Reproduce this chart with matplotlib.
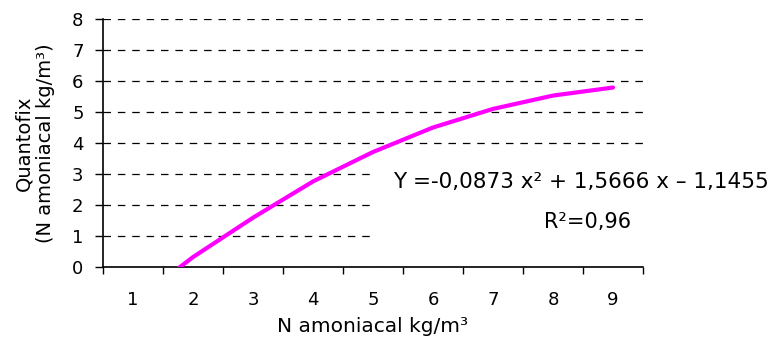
import numpy as np
import matplotlib
matplotlib.use("Agg")
import matplotlib.pyplot as plt
from matplotlib.patches import Rectangle

# data (category axis 1..9)
categories = ['1', '2', '3', '4', '5', '6', '7', '8', '9']
quantofix = [-1.15, 0.33, 1.60, 2.77, 3.72, 4.51, 5.11, 5.54, 5.80]
y_ticks = [0, 1, 2, 3, 4, 5, 6, 7, 8]
equation = "Y =-0,0873 x\u00b2 + 1,5666 x \u2013 1,1455"
r2_text = "R\u00b2=0,96"

plt.rcParams['font.family'] = ['DejaVu Sans']

fig = plt.figure(figsize=(7.81, 3.42), dpi=100)
ax = fig.add_axes([0.1319, 0.2184, 0.6914, 0.7251])

x = np.arange(1, len(categories) + 1)
ax.plot(x, quantofix, color='#FF00FF', linewidth=3.0, solid_capstyle='round', zorder=3)

ax.set_xlim(0.5, len(categories) + 0.5)
ax.set_ylim(0, 8)

# category labels centred, ticks between categories
ax.set_xticks(np.arange(0.5, len(categories) + 1, 1))
ax.set_xticklabels([])
ax.set_xticks(x, minor=True)
ax.set_xticklabels(categories, minor=True, fontsize=13)
ax.tick_params(axis='x', which='major', direction='out', length=5, width=1)
ax.tick_params(axis='x', which='minor', length=0, pad=17)

ax.set_yticks(y_ticks)
ax.set_yticklabels([str(v) for v in y_ticks], fontsize=13)
ax.tick_params(axis='y', direction='out', length=6, width=1, pad=8)

ax.yaxis.grid(True, linestyle=(0, (6, 5.5)), color='black', linewidth=0.9)
ax.set_axisbelow(True)

for side in ['top', 'right']:
    ax.spines[side].set_visible(False)
ax.spines['left'].set_linewidth(1.2)
ax.spines['bottom'].set_linewidth(1.2)

ax.set_xlabel("N amoniacal kg/m\u00b3", fontsize=14.5, labelpad=6)
ax.set_ylabel("Quantofix\n(N amoniacal kg/m\u00b3)", fontsize=14, labelpad=12)

# white box behind the equation text
fig.add_artist(Rectangle((372 / 781, 1 - 245 / 342), (781 - 372) / 781, 85 / 342,
                         transform=fig.transFigure, facecolor='white',
                         edgecolor='none', zorder=1))
fig.text(769 / 781, 1 - 182 / 342, equation, fontsize=15.5, ha='right', va='center', zorder=2)
fig.text(631 / 781, 1 - 222 / 342, r2_text, fontsize=15, ha='right', va='center', zorder=2)

fig.savefig("out.png", dpi=100)
